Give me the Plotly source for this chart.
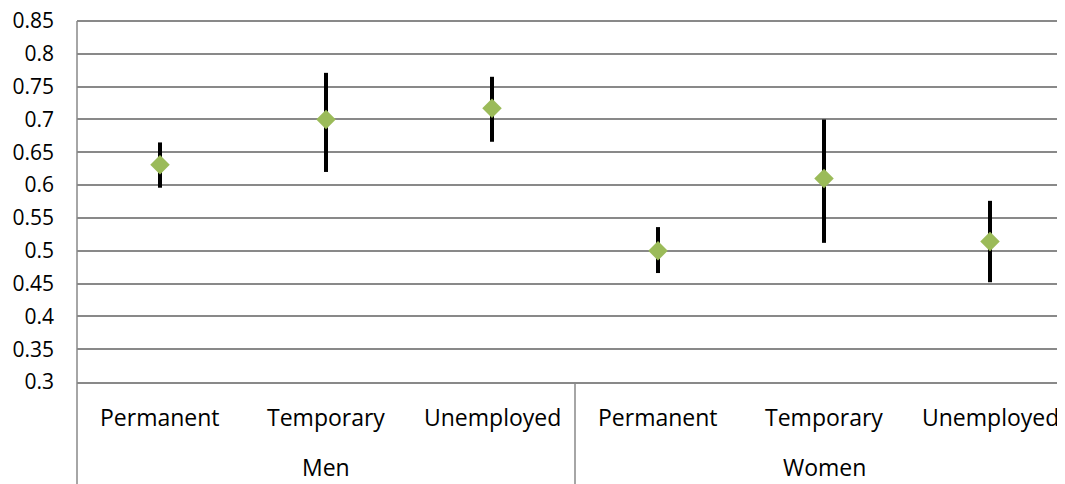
import plotly.graph_objects as go

groups = ["Men", "Women"]
categories = ["Permanent", "Temporary", "Unemployed", "Permanent", "Temporary", "Unemployed"]
values = [0.631, 0.700, 0.717, 0.500, 0.610, 0.514]
upper = [0.665, 0.771, 0.765, 0.536, 0.700, 0.576]
lower = [0.596, 0.620, 0.666, 0.466, 0.512, 0.452]
y_ticks = [0.3, 0.35, 0.4, 0.45, 0.5, 0.55, 0.6, 0.65, 0.7, 0.75, 0.8, 0.85]
y_tick_labels = ["0.3", "0.35", "0.4", "0.45", "0.5", "0.55", "0.6", "0.65", "0.7", "0.75", "0.8", "0.85"]

xs = list(range(len(categories)))
err_plus = [u - v for u, v in zip(upper, values)]
err_minus = [v - l for v, l in zip(values, lower)]

FONT = "Open Sans, sans-serif"
GRID = "#898989"

# page body has an 8px default margin; size the figure to end at the window edges
OFF = 8
W, H = 1065 - OFF, 484 - OFF
left_px = 77 - OFF
y_lo, y_top, y_hi = 0.3, 0.85, 0.87
px_per_unit = (382 - 21) / (y_top - y_lo)
bot_px = 382 - OFF
top_px = int(round(21 - OFF - (y_hi - y_top) * px_per_unit))
plot_h = bot_px - top_px
y_hi = y_lo + plot_h / px_per_unit

def paper_y(px_abs):
    return (bot_px - (px_abs - OFF)) / plot_h

fig = go.Figure()
fig.add_trace(go.Scatter(
    x=xs, y=values, mode="markers",
    marker=dict(symbol="diamond", size=15, color="#9BBB59"),
    error_y=dict(type="data", symmetric=False, array=err_plus, arrayminus=err_minus,
                 color="black", thickness=4, width=0),
    showlegend=False,
))

shapes = []
shapes.append(dict(type="line", xref="paper", yref="paper", x0=0, x1=0,
                   y0=paper_y(21), y1=paper_y(484), line=dict(color=GRID, width=1.5)))
shapes.append(dict(type="line", xref="x", yref="paper", x0=2.5, x1=2.5,
                   y0=0, y1=paper_y(484), line=dict(color=GRID, width=1.5)))

annotations = []
for i, c in enumerate(categories):
    annotations.append(dict(x=i, y=paper_y(417), xref="x", yref="paper", text=c,
                            showarrow=False, font=dict(family=FONT, size=23, color="black"),
                            xanchor="center", yanchor="middle"))
for g, gi in enumerate(groups):
    annotations.append(dict(x=1 + 3 * g, y=paper_y(467), xref="x", yref="paper", text=gi,
                            showarrow=False, font=dict(family=FONT, size=23, color="black"),
                            xanchor="center", yanchor="middle"))

fig.update_layout(
    width=W, height=H,
    margin=dict(l=left_px, r=0, t=top_px, b=H - bot_px, pad=0),
    plot_bgcolor="white", paper_bgcolor="white",
    font=dict(family=FONT, size=21, color="black"),
    shapes=shapes, annotations=annotations,
    xaxis=dict(range=[-0.5, 5.5 - 8 / 166], showgrid=False, zeroline=False,
               showticklabels=False, showline=True, linecolor=GRID, linewidth=1.5),
    yaxis=dict(range=[y_lo, y_hi], tickvals=y_ticks, ticktext=y_tick_labels,
               showgrid=True, gridcolor=GRID, gridwidth=1.5, zeroline=False,
               showline=False, ticks="", ticklabelstandoff=22, automargin=False,
               ticklabeloverflow="allow"),
)

fig.write_html("out.html")
